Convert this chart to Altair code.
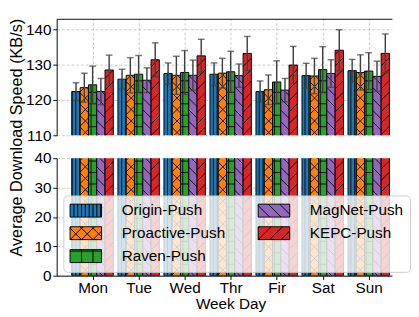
import math
import altair as alt
import pandas as pd

# ---------------- data ----------------
days = ["Mon", "Tue", "Wed", "Thr", "Fir", "Sat", "Sun"]
methods = ["Origin-Push", "Proactive-Push", "Raven-Push", "MagNet-Push", "KEPC-Push"]
colors = ["#1f77b4", "#ff7f0e", "#2ca02c", "#9467bd", "#d62728"]
hatches = ["|||", "x", "+", "\\", "/"]

origin = [122.4, 125.9, 127.5, 127.3, 122.4, 126.9, 128.3]
origin_err = [2.5, 2.8, 3.0, 3.2, 3.0, 3.5, 3.2]
proactive = [123.5, 127.0, 127.0, 127.6, 122.9, 126.8, 127.8]
proactive_err = [4.1, 5.0, 5.4, 4.2, 4.2, 5.0, 5.0]
raven = [124.3, 127.3, 127.8, 128.0, 125.1, 128.6, 128.2]
raven_err = [5.3, 5.3, 6.2, 5.8, 6.0, 6.5, 5.2]
magnet = [122.4, 125.6, 127.0, 126.9, 122.8, 127.5, 126.7]
magnet_err = [3.7, 3.5, 4.3, 3.3, 3.3, 3.9, 4.3]
kepc = [128.5, 131.4, 132.5, 133.2, 129.9, 134.1, 133.2]
kepc_err = [4.2, 4.8, 4.7, 4.8, 5.3, 5.8, 5.5]

series = [origin, proactive, raven, magnet, kepc]
series_err = [origin_err, proactive_err, raven_err, magnet_err, kepc_err]

top_ticks = [110, 120, 130, 140]
bot_ticks = [0, 10, 20, 30, 40]

# ---------------- layout ----------------
PLOT_W = 351
TOP_H = 122
BOT_H = 123
GAP = 24            # gap between the two plot areas
LABEL_HALF = 8      # half height of a y tick label
X_MIN = -0.78
X_MAX = X_MIN + PLOT_W / 48.19
TOP_DOM = [110, 143]
BOT_DOM = [0, 40]
GROUP = 0.9
BAR_W = GROUP / len(methods)
HATCH_S = 12.0
FONT = "Liberation Sans"

PPX = PLOT_W / (X_MAX - X_MIN)
PPU_TOP = TOP_H / (TOP_DOM[1] - TOP_DOM[0])
PPU_BOT = BOT_H / (BOT_DOM[1] - BOT_DOM[0])


def families(h):
    s = HATCH_S
    if h == "|||":
        return [("v", s / 3)]
    if h == "x":
        return [("d1", s), ("d2", s)]
    if h == "+":
        return [("v", s), ("h", s)]
    if h == "\\":
        return [("d2", s)]
    return [("d1", s)]


def clip_lines(fam, sp, X1, X2, Y1, Y2):
    segs = []
    if fam == "v":
        k = math.floor(X1 / sp) + 1
        while k * sp < X2:
            segs.append((k * sp, Y1, k * sp, Y2))
            k += 1
    elif fam == "h":
        k = math.floor(Y1 / sp) + 1
        while k * sp < Y2:
            segs.append((X1, k * sp, X2, k * sp))
            k += 1
    elif fam == "d1":  # y = x + c
        k = math.floor((Y1 - X2) / sp) + 1
        while k * sp < Y2 - X1:
            c = k * sp
            xa, xb = max(X1, Y1 - c), min(X2, Y2 - c)
            if xb > xa:
                segs.append((xa, xa + c, xb, xb + c))
            k += 1
    else:  # y = -x + c
        k = math.floor((X1 + Y1) / sp) + 1
        while k * sp < X2 + Y2:
            c = k * sp
            xa, xb = max(X1, c - Y2), min(X2, c - Y1)
            if xb > xa:
                segs.append((xa, c - xa, xb, c - xb))
            k += 1
    return segs


rows, hrows = [], []
for i, m in enumerate(methods):
    for d, day in enumerate(days):
        v = series[i][d]
        e = series_err[i][d]
        xc = d + (i - (len(methods) - 1) / 2) * BAR_W
        rows.append(dict(method=m, day=day, value=v, err=e, xc=xc,
                         x1=xc - BAR_W / 2, x2=xc + BAR_W / 2,
                         lo=v - e, hi=v + e, base=0))
        X1 = (xc - BAR_W / 2 - X_MIN) * PPX
        X2 = (xc + BAR_W / 2 - X_MIN) * PPX
        for panel, dom, ppu, yoff in (("top", TOP_DOM, PPU_TOP, BOT_H + GAP),
                                      ("bot", BOT_DOM, PPU_BOT, 0)):
            top_v = min(v, dom[1])
            if top_v <= dom[0]:
                continue
            Y1 = yoff
            Y2 = yoff + (top_v - dom[0]) * ppu
            for fam, sp in families(hatches[i]):
                for (a, b, c, dd) in clip_lines(fam, sp, X1, X2, Y1, Y2):
                    hrows.append(dict(panel=panel, method=m,
                                      hx1=X_MIN + a / PPX, hy1=dom[0] + (b - yoff) / ppu,
                                      hx2=X_MIN + c / PPX, hy2=dom[0] + (dd - yoff) / ppu))

df = pd.DataFrame(rows)
hdf = pd.DataFrame(hrows)

# legend patch paths: 33 x 13.5 px patch, symbol "unit" = SYM_D px
PW, PH = 33.0, 13.5
SYM_D = 16.0
R = SYM_D / 2


def patch_path(h):
    hw, hh = PW / 2 / R, PH / 2 / R
    p = f"M{-hw:.4f},{-hh:.4f}L{hw:.4f},{-hh:.4f}L{hw:.4f},{hh:.4f}L{-hw:.4f},{hh:.4f}Z"
    for fam, sp in families(h):
        for (a, b, c, dd) in clip_lines(fam, sp, 0.0, PW, 0.0, PH):
            p += (f"M{(a - PW / 2) / R:.4f},{(PH / 2 - b) / R:.4f}"
                  f"L{(c - PW / 2) / R:.4f},{(PH / 2 - dd) / R:.4f}")
    return p


legend_paths = [patch_path(h) for h in hatches]

color_scale = alt.Scale(domain=methods, range=colors)
shape_scale = alt.Scale(domain=methods, range=legend_paths)

leg = alt.Legend(
    title=None, orient="none", legendX=7, legendY=39, columns=2,
    columnPadding=32, rowPadding=5, padding=7, symbolSize=SYM_D * SYM_D,
    symbolOffset=8, symbolStrokeWidth=1, symbolOpacity=1,
    labelFontSize=16, labelFont=FONT, labelColor="black", labelOffset=29,
    fillColor="rgba(255,255,255,0.8)", strokeColor="#cccccc", cornerRadius=4,
)

xscale = alt.Scale(domain=[X_MIN, X_MAX], nice=False, zero=False)
grid_kw = dict(grid=True, gridColor="#c4c4c4", gridDash=[3, 2], gridWidth=0.9)
xaxis_top = alt.Axis(orient="top", values=list(range(len(days))), labels=False,
                     ticks=False, title=None, domain=True, domainColor="black", **grid_kw)
label_expr = "[" + ",".join(f"'{d}'" for d in days) + "][datum.value]"
xaxis_bot = alt.Axis(orient="bottom", values=list(range(len(days))), labelExpr=label_expr,
                     title="Week Day", titleX=182, tickSize=4, labelPadding=1, titlePadding=0,
                     domainColor="black", **grid_kw)

yscale_top = alt.Scale(domain=TOP_DOM, nice=False, zero=False)
yscale_bot = alt.Scale(domain=BOT_DOM, nice=False, zero=False)
yaxis_top = alt.Axis(values=top_ticks, title=None, tickSize=4, labelPadding=2,
                     domainColor="black", **grid_kw)
yaxis_bot = alt.Axis(values=bot_ticks, title=None, tickSize=4, labelPadding=2,
                     domainColor="black", **grid_kw)


def panel(name):
    xa = xaxis_top if name == "top" else xaxis_bot
    ys = yscale_top if name == "top" else yscale_bot
    ya = yaxis_top if name == "top" else yaxis_bot
    layers = []
    if name == "bot":
        layers.append(alt.Chart(df).mark_point(filled=True, opacity=0, stroke="black",
                                               strokeWidth=1, clip=True).encode(
            x=alt.X("xc:Q", scale=xscale, axis=xa),
            y=alt.Y("value:Q", scale=ys, axis=ya),
            color=alt.Color("method:N", scale=color_scale, legend=leg),
            shape=alt.Shape("method:N", scale=shape_scale, legend=leg),
        ))
    layers.append(alt.Chart(df).mark_bar(stroke="black", strokeWidth=1, clip=True).encode(
        x=alt.X("x1:Q", scale=xscale, axis=xa),
        x2="x2:Q",
        y=alt.Y("value:Q", scale=ys, axis=ya),
        y2="base:Q",
        color=alt.Color("method:N", scale=color_scale, legend=None),
    ))
    layers.append(alt.Chart(hdf).transform_filter(alt.datum.panel == name)
                  .mark_rule(color="black", strokeWidth=0.9, clip=True).encode(
        x=alt.X("hx1:Q", scale=xscale, axis=xa),
        x2="hx2:Q",
        y=alt.Y("hy1:Q", scale=ys, axis=ya),
        y2="hy2:Q",
    ))
    if name == "top":
        layers.append(alt.Chart(df).mark_rule(color="#404040", strokeWidth=1.5).encode(
            x=alt.X("xc:Q", scale=xscale, axis=xa),
            y=alt.Y("lo:Q", scale=ys, axis=ya),
            y2="hi:Q",
        ))
        for f in ("lo", "hi"):
            layers.append(alt.Chart(df).mark_tick(color="#404040", orient="horizontal",
                                                  size=7, thickness=1.5).encode(
                x=alt.X("xc:Q", scale=xscale, axis=xa),
                y=alt.Y(f"{f}:Q", scale=ys, axis=ya),
            ))
    h = TOP_H if name == "top" else BOT_H
    return alt.layer(*layers).properties(width=PLOT_W, height=h)


ytitle = alt.TitleParams(
    text="Average Download Speed (KB/s)", orient="left", anchor="end", frame="group",
    fontSize=17, font=FONT, fontWeight="normal", color="black", offset=0,
)

chart = (
    alt.vconcat(panel("top"), panel("bot"), spacing=GAP - 2 * LABEL_HALF, title=ytitle)
    .resolve_legend(color="independent", shape="independent")
    .properties(padding={"left": 0, "top": 3, "right": 0, "bottom": 0})
    .configure(font=FONT)
    .configure_view(stroke=None)
    .configure_axis(labelFontSize=16, titleFontSize=16, labelColor="black",
                    titleColor="black", titleFontWeight="normal", tickColor="black",
                    labelFont=FONT, titleFont=FONT, tickWidth=1, domainWidth=1)
)

chart.save("out.html", embed_options={"renderer": "svg", "actions": False})
